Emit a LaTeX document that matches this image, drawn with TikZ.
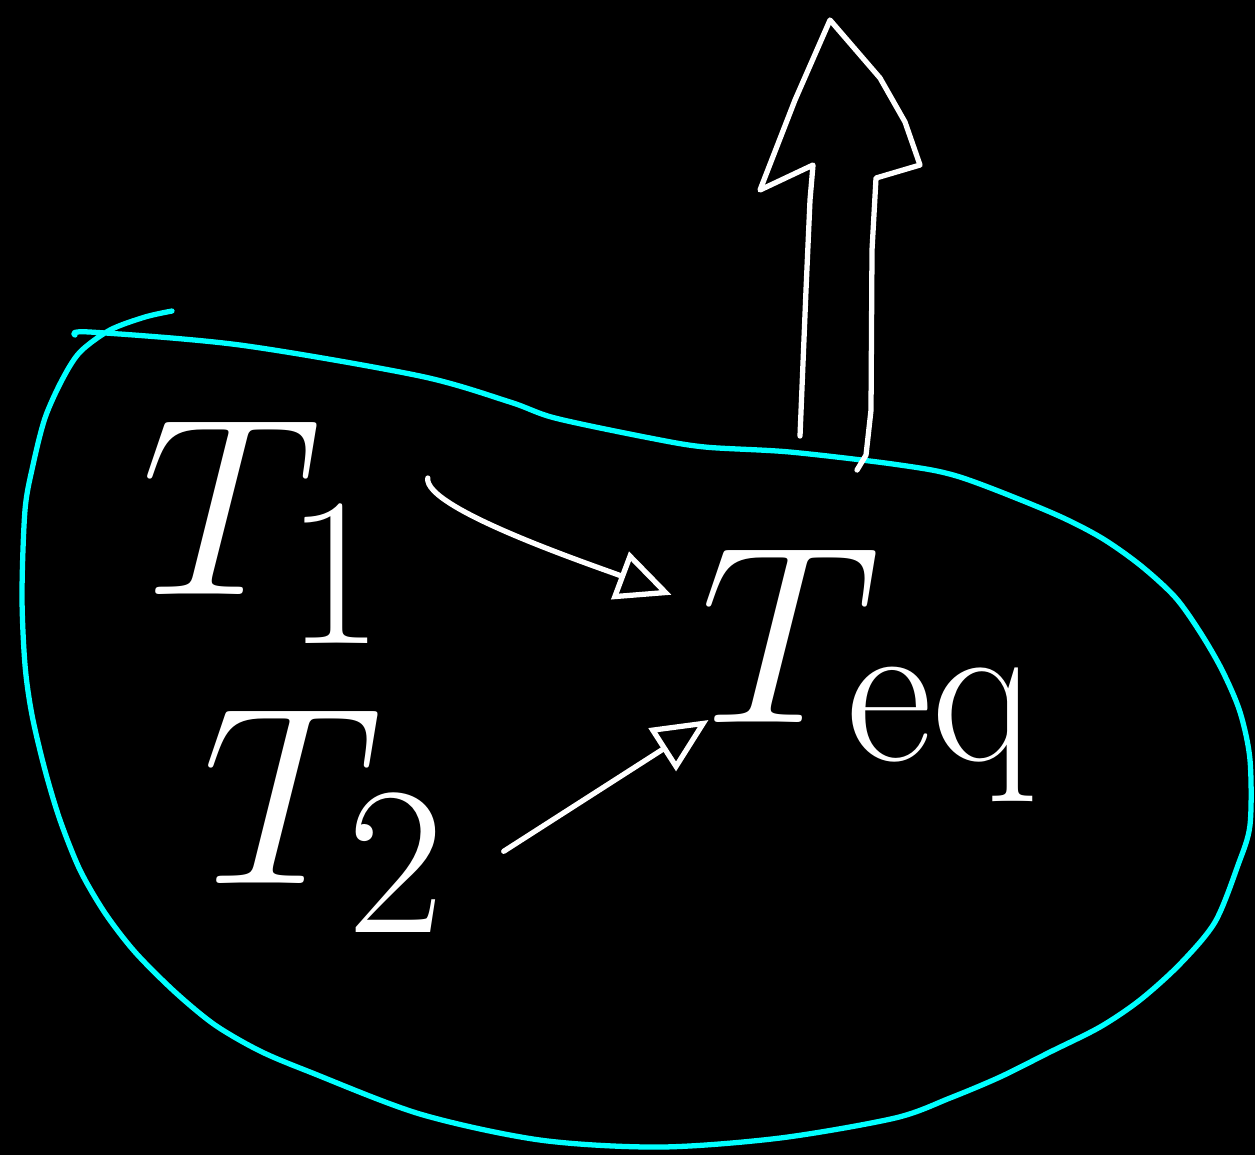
\documentclass[tikz,border=0pt]{standalone}
\usetikzlibrary{arrows.meta,positioning,calc}
\definecolor{wallcyan}{RGB}{0,255,255}

\begin{document}
\begin{tikzpicture}[x=0.1mm,y=-0.1mm,>={Triangle[open,length=5.5mm,width=5mm]},line cap=round,line join=round]
\tikzstyle{temp}=[text=white, inner sep=0pt, font=\Huge, scale=2.9]
\tikzstyle{flow}=[->, white, line width=1.5pt]
\tikzstyle{wall}=[wallcyan, line width=1.5pt]
\fill[black] (0,0) rectangle (1255,1155);
\useasboundingbox (0,0) rectangle (1255,1155);
% system boundary
\draw[wall] plot[smooth] coordinates {(75,335) (90,332) (240,345) (420,376) (510,402) (555,418) (650,438) (705,447) (790,452) (900,465) (960,477) (1050,512) (1100,537) (1140,565) (1175,597) (1200,632) (1222,670) (1240,712) (1250,760) (1250,825) (1238,865) (1215,922) (1180,964) (1140,1000) (1100,1027) (1050,1052) (1000,1077) (950,1098) (895,1118) (780,1138) (660,1147) (540,1140) (420,1114) (310,1072) (260,1051) (215,1025) (175,992) (135,952) (105,913) (80,870) (60,820) (45,770) (32,715) (25,665) (22,595) (25,510) (33,465) (45,418) (62,380) (80,352) (110,330) (145,317) (172,311)};
% temperatures
\node[temp] (t1) at (265,532) {$T_1$};
\node[temp, below=0.63cm of t1, xshift=2.1mm] (t2) {$T_2$};
\node[temp] (teq) at (870,675) {$T_{\mathrm{eq}}$};
% heat flow
\draw[flow] ($(t1.east)+(37,-54)$) .. controls +(-5,30) and +(-80,-30) .. ($(teq.north west)+(-27,48)$);
\draw[flow] ($(t2.east)+(52,30)$) -- ($(teq.west)+(10,45)$);
% outgoing arrow
\draw[white, line width=1.5pt] (800,436) -- (806,290) -- (810,200) -- (813,165) -- (760,190) -- (795,100) -- (830,20) -- (880,78) -- (905,122) -- (920,165) -- (876,178) -- (872,250) -- (871,410) -- (866,455) -- (857,470);
\end{tikzpicture}
\end{document}
